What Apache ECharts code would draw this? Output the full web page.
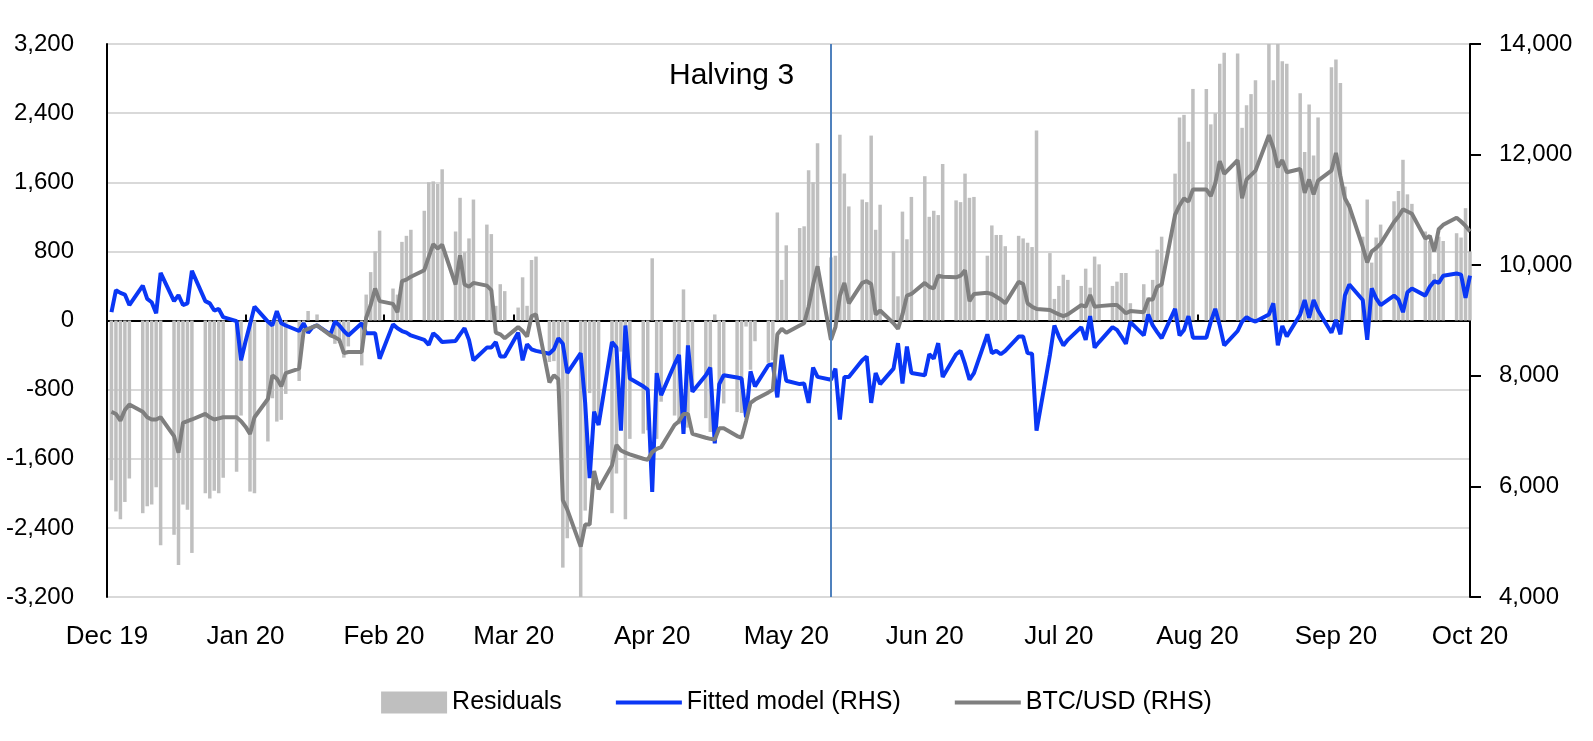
<!DOCTYPE html>
<html>
<head>
<meta charset="utf-8">
<title>BTC/USD fitted model and residuals</title>
<script src="https://cdn.jsdelivr.net/npm/echarts@6/dist/echarts.min.js"></script>
<style>
  html, body { margin: 0; padding: 0; background: #fff; }
  #chart { width: 1593px; height: 741px; }
</style>
</head>
<body>
<div id="chart"></div>
<script>
// weekday observations, 2 Dec 2019 .. 1 Oct 2020 (one value per trading day, grouped by month)
const residuals = [
  // Dec 19
  -1850, -2210, -2300, -2100, -1830, -2230, -2150, -2130, -1930, -2600, -2480, -2830, -2130, -2190, -2690, -2000, -2060, -1970, -2000, -1820, -1750, -1100,
  // Jan 20
  null, -1980, -2000, -1400, -900, -1170, -1150, -850, -700, -130, 110, 0, 70, -20, -270, -260, -430, -300, -520, 300, 560, 800, 1040,
  // Feb 20
  370, 300, 910, 980, 1050, 1270, 1600, 1610, 1580, 1750, 1030, 1420, 790, 950, 1400, 1110, 1000, 170, 420, 340,
  // Mar 20
  150, 500, 170, 700, 740, -480, -470, -740, -2860, -2520, -3400, -2200, -840, -1070, -1170, -2230, -1770, -360, -2300, -1370, -1310, -1270,
  // Apr 20
  720, -1370, -940, -1100, -1200, 360, -1240, -760, -1130, -1290, 70, -800, -960, -1060, -1070, -70, -570, -240, -490, -460, 1250, 470,
  // May 20
  870, 1070, 1090, 1740, 1600, 2050, 730, 750, 2150, 1700, 1320, 1400, 1370, 2140, 1050, 1340, 800, 280, 1260, 940, 1430,
  // Jun 20
  1670, 1200, 1270, 1220, 1810, 1390, 1370, 1700, 1420, 1430, 750, 1100, 990, 990, 860, 980, 950, 900, 850, 2200, 780, 250,
  // Jul 20
  400, 530, 470, 400, 600, 380, 740, 650, 400, 450, 550, 550, 200, 420, 270, 470, 820, 970, 1700, 2350, 2380, 2070, 2680,
  // Aug 20
  2680, 2270, 2400, 2970, 3100, 3090, 2230, 2490, 2620, 2780, 3300, 2780, 3250, 3000, 2970, 2630, 1950, 2500, 1910, 2350, 2930,
  // Sep 20
  3020, 2750, 1550, 1350, 970, 1400, 670, 960, 1110, 1380, 1500, 1860, 1460, 1350, 1030, 920, 540, 970, 920, 1010, 960, 1300,
  // Oct 20
  800
]

const fitted = [
  9150, 9550, 9500, 9470, 9280, 9630, 9390, 9330, 9130, 9860, 9350, 9460, 9280, 9310, 9900, 9350, 9310, 9180, 9210, 9060, 8990, 8280,
  8620, 8930, 9250, 8980, 8910, 9170, 8950, 8910, 8810, 8950, 8780, 8880, 8910, 8750, 8980, 8910, 8810, 8730, 8950, 8770, 8770, 8770, 8310,
  8930, 8860, 8810, 8780, 8730, 8650, 8560, 8770, 8700, 8610, 8630, 8750, 8860, 8650, 8280, 8510, 8510, 8610, 8350, 8350,
  8780, 8280, 8570, 8480, 8450, 8400, 8480, 8680, 8580, 8050, 8410, 7510, 6150, 7350, 7110, 8610, 8510, 7010, 8910, 7950, 7810, 7750,
  5900, 8050, 7650, 8210, 8380, 6950, 8550, 7710, 8010, 8150, 6780, 7850, 8010, 7970, 7950, 7250, 8080, 7810, 8190, 8210, 7610, 8380,
  7910, 7850, 7860, 7510, 8150, 7980, 7930, 8130, 7210, 7980, 7980, 8280, 8350, 7510, 8050, 7850, 8130, 8590, 7860, 8530, 8050,
  8010, 8390, 8310, 8590, 7980, 8390, 8450, 8210, 7930, 8050, 8750, 8410, 8450, 8390, 8450, 8710, 8710, 8410, 8400, 7010, 8380, 8910,
  8710, 8550, 8650, 8880, 8650, 9080, 8510, 8610, 8880, 8830, 8710, 8580, 8970, 8730, 9110, 8910, 8790, 8680, 9210, 8730, 8830, 9080, 8690,
  8690, 8980, 9210, 8910, 8550, 8810, 8980, 9060, 9010, 8980, 9110, 9310, 8550, 8900, 8710, 9110, 9370, 9050, 9370, 9180, 8780,
  9010, 8750, 9450, 9650, 9370, 8650, 9580, 9400, 9280, 9450, 9380, 9150, 9510, 9580, 9450, 9610, 9710, 9680, 9810, 9850, 9830, 9410,
  9810
]

const btcUsd = [
  7350, 7310, 7190, 7380, 7480, 7350, 7250, 7210, 7210, 7250, 6910, 6610, 7150, 7180, 7210, 7310, 7250, 7210, 7230, 7250, 7250, 7180,
  7080, 6950, 7250, 7580, 8010, 7950, 7810, 8050, 8130, 8810, 8850, 8880, 8910, 8730, 8700, 8650, 8410, 8430, 8430, 9050, 9280, 9580, 9350,
  9300, 9150, 9710, 9740, 9790, 9910, 10150, 10380, 10300, 10370, 9650, 10180, 9650, 9610, 9680, 9630, 9550, 8780, 8750, 8680,
  8880, 8810, 8710, 9080, 9110, 7880, 8010, 7940, 5750, 5580, 4910, 5310, 5310, 6280, 5950, 6380, 6750, 6650, 6610, 6580, 6500, 6480,
  6620, 6680, 6710, 7110, 7180, 7310, 7310, 6950, 6880, 6860, 6850, 7050, 7050, 6910, 6880, 7180, 7510, 7570, 7700, 7750, 8750, 8850,
  8780, 8910, 8950, 9250, 9650, 9980, 8650, 8880, 9450, 9680, 9310, 9680, 9710, 9660, 9110, 9180, 8950, 8850, 9110, 9450, 9480,
  9680, 9610, 9580, 9810, 9790, 9780, 9810, 9910, 9350, 9480, 9500, 9480, 9430, 9380, 9310, 9700, 9660, 9310, 9250, 9210, 9190, 9150,
  9110, 9080, 9110, 9280, 9250, 9460, 9250, 9260, 9280, 9280, 9210, 9130, 9170, 9150, 9380, 9380, 9610, 9650, 10910, 11080, 11210, 11150, 11370,
  11370, 11250, 11480, 11880, 11650, 11900, 11210, 11550, 11630, 11710, 12350, 12120, 11770, 11900, 11680, 11740, 11310, 11550, 11280, 11530, 11710,
  12030, 11610, 11210, 11060, 10330, 10050, 10250, 10310, 10390, 10780, 10880, 11010, 10970, 10930, 10480, 10530, 10250, 10650, 10730, 10860, 10790, 10710,
  10610
]

const leftTicks = { min: -3200, max: 3200, interval: 800 }
const rightTicks = { min: 4000, max: 14000, interval: 2000 }
const monthNames = ['Jan', 'Feb', 'Mar', 'Apr', 'May', 'Jun', 'Jul', 'Aug', 'Sep', 'Oct', 'Nov', 'Dec']
const halvingDate = new Date(2020, 4, 11).getTime()
const halvingLabel = 'Halving 3'

// trading days (Mon-Fri) between the first and last observation
const dates = []
for (let d = new Date(2019, 11, 2); d <= new Date(2020, 9, 1); d.setDate(d.getDate() + 1)) {
  if (d.getDay() !== 0 && d.getDay() !== 6) dates.push(d.getTime())
}
// month starts Dec 19 .. Oct 20, used for ticks and labels
const monthStarts = []
for (let m = 0; m <= 10; m++) monthStarts.push(new Date(2019, 11 + m, 1).getTime())

const pair = arr => dates.map((t, i) => [t, arr[i]])
const fmtNum = v => v.toLocaleString('en-US')
const fmtMonth = v => {
  const d = new Date(v)
  return monthNames[d.getMonth()] + ' ' + String(d.getFullYear()).slice(2)
}
const FONT = "'Liberation Sans', Arial, sans-serif"
const BLUE = '#0a37f5'
const GREY = '#7f7f7f'

const chart = echarts.init(document.getElementById('chart'))
chart.setOption({
  animation: false,
  backgroundColor: '#fff',
  textStyle: { fontFamily: FONT },
  grid: { left: 107, right: 123, top: 44, bottom: 144 },
  legend: {
    bottom: 21,
    left: 'center',
    itemWidth: 66,
    itemHeight: 22,
    itemGap: 52,
    textStyle: { fontSize: 25, color: '#000', fontFamily: FONT },
    data: [
      { name: 'Residuals', icon: 'rect' },
      // hide the marker so only the line stroke shows
      { name: 'Fitted model (RHS)', itemStyle: { opacity: 0 }, lineStyle: { width: 4, color: BLUE } },
      { name: 'BTC/USD (RHS)', itemStyle: { opacity: 0 }, lineStyle: { width: 4, color: GREY } }
    ]
  },
  xAxis: [
    {
      // dates as timestamps on a plain value axis, labelled at month starts
      type: 'value',
      min: monthStarts[0],
      max: monthStarts[monthStarts.length - 1],
      axisLine: { show: false, onZero: false },
      axisTick: { show: false },
      splitLine: { show: false },
      axisLabel: {
        customValues: monthStarts,
        showMinLabel: true,
        showMaxLabel: true,
        margin: 27,
        fontSize: 26,
        color: '#000',
        fontFamily: FONT,
        formatter: fmtMonth
      }
    },
    {
      // zero line with month ticks
      type: 'value',
      min: monthStarts[0],
      max: monthStarts[monthStarts.length - 1],
      axisLine: { show: true, onZero: true, onZeroAxisIndex: 0, lineStyle: { color: '#000', width: 2 } },
      axisTick: { show: true, customValues: monthStarts, length: 6, lineStyle: { color: '#000', width: 2 } },
      axisLabel: { show: false },
      splitLine: { show: false }
    }
  ],
  yAxis: [
    {
      type: 'value',
      min: leftTicks.min,
      max: leftTicks.max,
      interval: leftTicks.interval,
      axisLine: { show: true, lineStyle: { color: '#000', width: 2 } },
      axisTick: { show: false },
      splitLine: { show: true, lineStyle: { color: '#d9d9d9', width: 2 } },
      axisLabel: { margin: 33, fontSize: 24, color: '#000', fontFamily: FONT, formatter: fmtNum }
    },
    {
      type: 'value',
      position: 'right',
      min: rightTicks.min,
      max: rightTicks.max,
      interval: rightTicks.interval,
      axisLine: { show: true, lineStyle: { color: '#000', width: 2 } },
      axisTick: { show: true, inside: false, length: 11, lineStyle: { color: '#000', width: 2 } },
      splitLine: { show: false },
      axisLabel: { margin: 29, fontSize: 24, color: '#000', fontFamily: FONT, formatter: fmtNum }
    }
  ],
  series: [
    {
      name: 'Residuals',
      type: 'bar',
      xAxisIndex: 0,
      yAxisIndex: 0,
      barWidth: 3.5,
      itemStyle: { color: '#bfbfbf' },
      data: pair(residuals),
      markLine: {
        silent: true,
        symbol: 'none',
        label: { show: false },
        lineStyle: { color: '#4f81bd', width: 2, type: 'solid' },
        data: [{ xAxis: halvingDate }]
      }
    },
    {
      name: 'Fitted model (RHS)',
      type: 'line',
      xAxisIndex: 0,
      yAxisIndex: 1,
      symbol: 'none',
      connectNulls: true,
      lineStyle: { color: BLUE, width: 4 },
      itemStyle: { color: BLUE },
      data: pair(fitted)
    },
    {
      name: 'BTC/USD (RHS)',
      type: 'line',
      xAxisIndex: 0,
      yAxisIndex: 1,
      symbol: 'none',
      connectNulls: true,
      lineStyle: { color: GREY, width: 4 },
      itemStyle: { color: GREY },
      data: pair(btcUsd)
    }
  ],
  graphic: [
    {
      type: 'text',
      left: 669,
      top: 61,
      style: { text: halvingLabel, font: '30px ' + FONT, fill: '#000' }
    }
  ]
})
</script>
</body>
</html>
